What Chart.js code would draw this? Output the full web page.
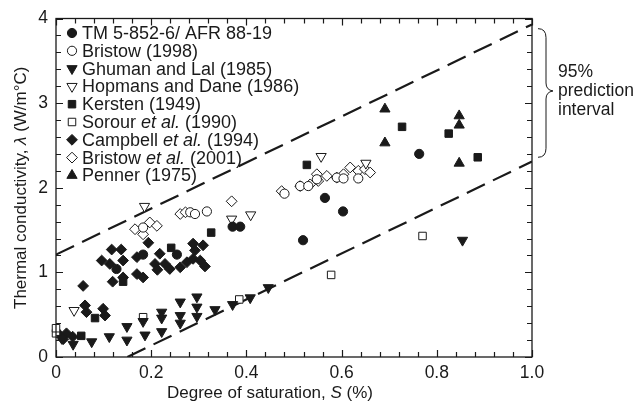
<!DOCTYPE html>
<html>
<head>
<meta charset="utf-8">
<script src="https://cdn.jsdelivr.net/npm/chart.js@4.4.0/dist/chart.umd.min.js"></script>
<style>
  body { margin: 0; background: #fff; }
  canvas { display: block; }
</style>
</head>
<body>
<canvas id="satChart" width="638" height="405"></canvas>
<script>
// values: degree of saturation S (x) and conductivity (y)
const tmX = [0.127, 0.183, 0.254, 0.371, 0.387, 0.519, 0.565, 0.603, 0.763];
const tmY = [1.04, 1.21, 1.21, 1.54, 1.54, 1.38, 1.88, 1.72, 2.40];

const bristow98X = [0.183, 0.282, 0.292, 0.317, 0.480, 0.513, 0.530, 0.548, 0.590, 0.604, 0.635];
const bristow98Y = [1.53, 1.71, 1.69, 1.72, 1.93, 2.02, 2.02, 2.10, 2.12, 2.11, 2.11];

const ghumanX = [0.012, 0.036, 0.075, 0.112, 0.149, 0.149, 0.183, 0.187, 0.222, 0.222, 0.222, 0.261, 0.261, 0.261, 0.296, 0.296, 0.296, 0.334, 0.371, 0.408, 0.446, 0.854];
const ghumanY = [0.22, 0.15, 0.18, 0.24, 0.20, 0.36, 0.42, 0.26, 0.30, 0.46, 0.53, 0.40, 0.49, 0.65, 0.48, 0.59, 0.71, 0.56, 0.62, 0.70, 0.82, 1.38];

const hopmansX = [0.038, 0.186, 0.369, 0.409, 0.557, 0.651];
const hopmansY = [0.55, 1.78, 1.63, 1.68, 2.37, 2.29];

const kerstenX = [0.053, 0.082, 0.141, 0.242, 0.326, 0.527, 0.727, 0.825, 0.886];
const kerstenY = [0.25, 0.46, 0.89, 1.29, 1.47, 2.27, 2.72, 2.64, 2.36];

const sorourX = [0.0, 0.0, 0.183, 0.385, 0.578, 0.770];
const sorourY = [0.28, 0.34, 0.47, 0.68, 0.97, 1.43];

const campbellX = [0.008, 0.022, 0.035, 0.015, 0.057, 0.061, 0.064, 0.099, 0.103, 0.119, 0.141, 0.170, 0.183,
  0.096, 0.113, 0.117, 0.137, 0.141, 0.170, 0.194, 0.208, 0.213, 0.218, 0.229, 0.239, 0.261, 0.275,
  0.288, 0.288, 0.292, 0.303, 0.309, 0.313];
const campbellY = [0.26, 0.28, 0.24, 0.21, 0.84, 0.61, 0.53, 0.57, 0.49, 0.89, 0.94, 0.98, 0.94,
  1.14, 1.10, 1.27, 1.27, 1.14, 1.18, 1.35, 1.10, 1.03, 1.22, 1.10, 1.04, 1.06, 1.12,
  1.34, 1.16, 1.26, 1.14, 1.32, 1.07];

const bristow01X = [0.166, 0.183, 0.197, 0.212, 0.261, 0.272, 0.369, 0.474, 0.513, 0.534, 0.551, 0.548, 0.569, 0.590, 0.604, 0.618, 0.635, 0.649, 0.660];
const bristow01Y = [1.51, 1.45, 1.59, 1.55, 1.69, 1.71, 1.84, 1.96, 2.02, 2.04, 2.08, 2.16, 2.14, 2.12, 2.16, 2.24, 2.20, 2.22, 2.18];

const pennerX = [0.691, 0.691, 0.847, 0.847, 0.847];
const pennerY = [2.93, 2.53, 2.85, 2.74, 2.29];

// 95% prediction band (two dashed lines)
const upperX = [0, 1.0];
const upperY = [1.21, 3.93];
const lowerX = [0.15, 1.0];
const lowerY = [0, 2.31];

const xTicks = [0, 0.2, 0.4, 0.6, 0.8, 1.0];
const xTickLabels = ['0', '0.2', '0.4', '0.6', '0.8', '1.0'];
const yTicks = [0, 1, 2, 3, 4];
const yTickLabels = ['0', '1', '2', '3', '4'];

const legendLabels = ['TM 5-852-6/ AFR 88-19', 'Bristow (1998)', 'Ghuman and Lal (1985)', 'Hopmans and Dane (1986)',
  'Kersten (1949)', 'Sorour *et al.* (1990)', 'Campbell *et al.* (1994)', 'Bristow *et al.* (2001)', 'Penner (1975)'];

const INK = '#1a1a1a';
const FONT = 'Liberation Sans, Arial, sans-serif';

function pts(xs, ys) {
  return xs.map((x, i) => ({x: x, y: ys[i]}));
}

// marker look per series, same order as the legend
const markers = [
  {style: 'circle', filled: true, r: 4.6},
  {style: 'circle', filled: false, r: 4.6},
  {style: 'triangle', filled: true, r: 5.9, rot: 180},
  {style: 'triangle', filled: false, r: 5.9, rot: 180},
  {style: 'rect', filled: true, r: 5.3},
  {style: 'rect', filled: false, r: 5.3},
  {style: 'rectRot', filled: true, r: 5.4},
  {style: 'rectRot', filled: false, r: 5.4},
  {style: 'triangle', filled: true, r: 5.9}
];
const seriesData = [
  pts(tmX, tmY), pts(bristow98X, bristow98Y), pts(ghumanX, ghumanY), pts(hopmansX, hopmansY),
  pts(kerstenX, kerstenY), pts(sorourX, sorourY), pts(campbellX, campbellY), pts(bristow01X, bristow01Y),
  pts(pennerX, pennerY)
];

let datasets = [];
seriesData.forEach((d, i) => {
  let m = markers[i];
  datasets.push({
    label: legendLabels[i].replace(/\*/g, ''),
    data: d,
    pointStyle: m.style,
    rotation: m.rot || 0,
    pointRadius: m.r,
    pointHoverRadius: m.r,
    backgroundColor: m.filled ? INK : '#fff',
    borderColor: INK,
    borderWidth: 1,
    clip: false
  });
});
// dashed lines go last so they are drawn underneath the markers
[[upperX, upperY], [lowerX, lowerY]].forEach(l => {
  datasets.push({
    type: 'line',
    data: pts(l[0], l[1]),
    borderColor: INK,
    borderWidth: 2.2,
    borderDash: [20, 9],
    pointRadius: 0,
    fill: false
  });
});

function drawMarker(ctx, m, x, y) {
  ctx.save();
  ctx.translate(x, y);
  ctx.rotate((m.rot || 0) * Math.PI / 180);
  ctx.beginPath();
  let r = m.r;
  if (m.style == 'circle') {
    ctx.arc(0, 0, r, 0, Math.PI * 2);
  } else if (m.style == 'triangle') {
    ctx.moveTo(0, -r);
    ctx.lineTo(r * 0.866, r * 0.5);
    ctx.lineTo(-r * 0.866, r * 0.5);
  } else if (m.style == 'rect') {
    let s = r * Math.SQRT1_2;
    ctx.rect(-s, -s, 2 * s, 2 * s);
  } else {
    ctx.moveTo(0, -r); ctx.lineTo(r, 0); ctx.lineTo(0, r); ctx.lineTo(-r, 0);
  }
  ctx.closePath();
  ctx.fillStyle = m.filled ? INK : '#fff';
  ctx.fill();
  ctx.strokeStyle = INK;
  ctx.lineWidth = 1;
  ctx.stroke();
  ctx.restore();
}

// text with *italic* parts, drawn from a left x
function drawRich(ctx, str, x, y, size) {
  let parts = str.split('*');
  parts.forEach((p, i) => {
    ctx.font = (i % 2 ? 'italic ' : '') + size + 'px ' + FONT;
    ctx.fillText(p, x, y);
    x += ctx.measureText(p).width;
  });
}
function richWidth(ctx, str, size) {
  let w = 0;
  str.split('*').forEach((p, i) => {
    ctx.font = (i % 2 ? 'italic ' : '') + size + 'px ' + FONT;
    w += ctx.measureText(p).width;
  });
  return w;
}

const decorPlugin = {
  id: 'decor',
  afterDraw(chart) {
    const ctx = chart.ctx;
    const a = chart.chartArea;
    const xs = chart.scales.x, ys = chart.scales.y;
    ctx.save();
    ctx.strokeStyle = INK;
    ctx.lineWidth = 1.3;
    ctx.strokeRect(a.left, a.top, a.right - a.left, a.bottom - a.top);

    // inward ticks on all four sides
    ctx.lineWidth = 1.2;
    ctx.beginPath();
    for (let k = 0; k <= 25; k++) {
      let v = k * 0.04;
      let px = Math.round(xs.getPixelForValue(v)) + 0.5;
      let len = (k % 5 == 0) ? 7 : 5;
      ctx.moveTo(px, a.bottom); ctx.lineTo(px, a.bottom - len);
      ctx.moveTo(px, a.top); ctx.lineTo(px, a.top + len);
    }
    for (let k = 0; k <= 20; k++) {
      let v = k * 0.2;
      let py = Math.round(ys.getPixelForValue(v)) + 0.5;
      let len = (k % 5 == 0) ? 7 : 5;
      ctx.moveTo(a.left, py); ctx.lineTo(a.left + len, py);
      ctx.moveTo(a.right, py); ctx.lineTo(a.right - len, py);
    }
    ctx.stroke();

    // legend inside the plot, upper left
    ctx.fillStyle = INK;
    ctx.textBaseline = 'middle';
    ctx.textAlign = 'left';
    legendLabels.forEach((lab, i) => {
      let y = 33 + i * 17.8;
      drawMarker(ctx, markers[i], 72, y);
      ctx.fillStyle = INK;
      drawRich(ctx, lab, 82, y + 1, 18);
    });

    // axis titles
    let tx = 'Degree of saturation, *S* (%)';
    let w = richWidth(ctx, tx, 17);
    drawRich(ctx, tx, 270 - w / 2, 393, 17);

    ctx.save();
    ctx.translate(21, (a.top + a.bottom) / 2);
    ctx.rotate(-Math.PI / 2);
    let ty = 'Thermal conductivity, *λ* (W/m°C)';
    w = richWidth(ctx, ty, 17);
    drawRich(ctx, ty, -w / 2, 0, 17);
    ctx.restore();

    // brace marking the band at the right edge
    let top = ys.getPixelForValue(3.88);
    let bot = ys.getPixelForValue(2.36);
    let mid = (top + bot) / 2 - 2;
    let bx = a.right + 6;
    ctx.lineWidth = 1;
    ctx.beginPath();
    ctx.moveTo(bx, top);
    ctx.quadraticCurveTo(bx + 8, top, bx + 8, top + 9);
    ctx.lineTo(bx + 8, mid - 8);
    ctx.quadraticCurveTo(bx + 8, mid - 1, bx + 15, mid);
    ctx.quadraticCurveTo(bx + 8, mid + 1, bx + 8, mid + 8);
    ctx.lineTo(bx + 8, bot - 9);
    ctx.quadraticCurveTo(bx + 8, bot, bx, bot);
    ctx.stroke();
    ctx.font = '17.5px ' + FONT;
    ctx.fillText('95%', bx + 20, mid - 19);
    ctx.fillText('prediction', bx + 20, mid);
    ctx.fillText('interval', bx + 20, mid + 19);
    ctx.restore();
  }
};

var ctx = document.getElementById('satChart').getContext('2d');
var myChart = new Chart(ctx, {
  type: 'scatter',
  data: {datasets: datasets},
  options: {
    responsive: false,
    animation: false,
    events: [],
    layout: {padding: {left: 0, right: 106, top: 17, bottom: 0}},
    plugins: {legend: {display: false}, tooltip: {enabled: false}},
    scales: {
      x: {
        type: 'linear', min: 0, max: 1,
        afterFit(s) { s.height = 48; },
        afterBuildTicks(s) { s.ticks = xTicks.map(v => ({value: v})); },
        grid: {display: false, drawTicks: false},
        border: {display: false},
        ticks: {
          autoSkip: false, maxRotation: 0, padding: 6, color: INK,
          font: {family: FONT, size: 17.5},
          callback: (v, i) => xTickLabels[i]
        }
      },
      y: {
        type: 'linear', min: 0, max: 4,
        afterFit(s) { s.width = 56; },
        afterBuildTicks(s) { s.ticks = yTicks.map(v => ({value: v})); },
        grid: {display: false, drawTicks: false},
        border: {display: false},
        ticks: {
          autoSkip: false, padding: 8, color: INK,
          font: {family: FONT, size: 17.5},
          callback: (v, i) => yTickLabels[i]
        }
      }
    }
  },
  plugins: [decorPlugin]
});
</script>
</body>
</html>
